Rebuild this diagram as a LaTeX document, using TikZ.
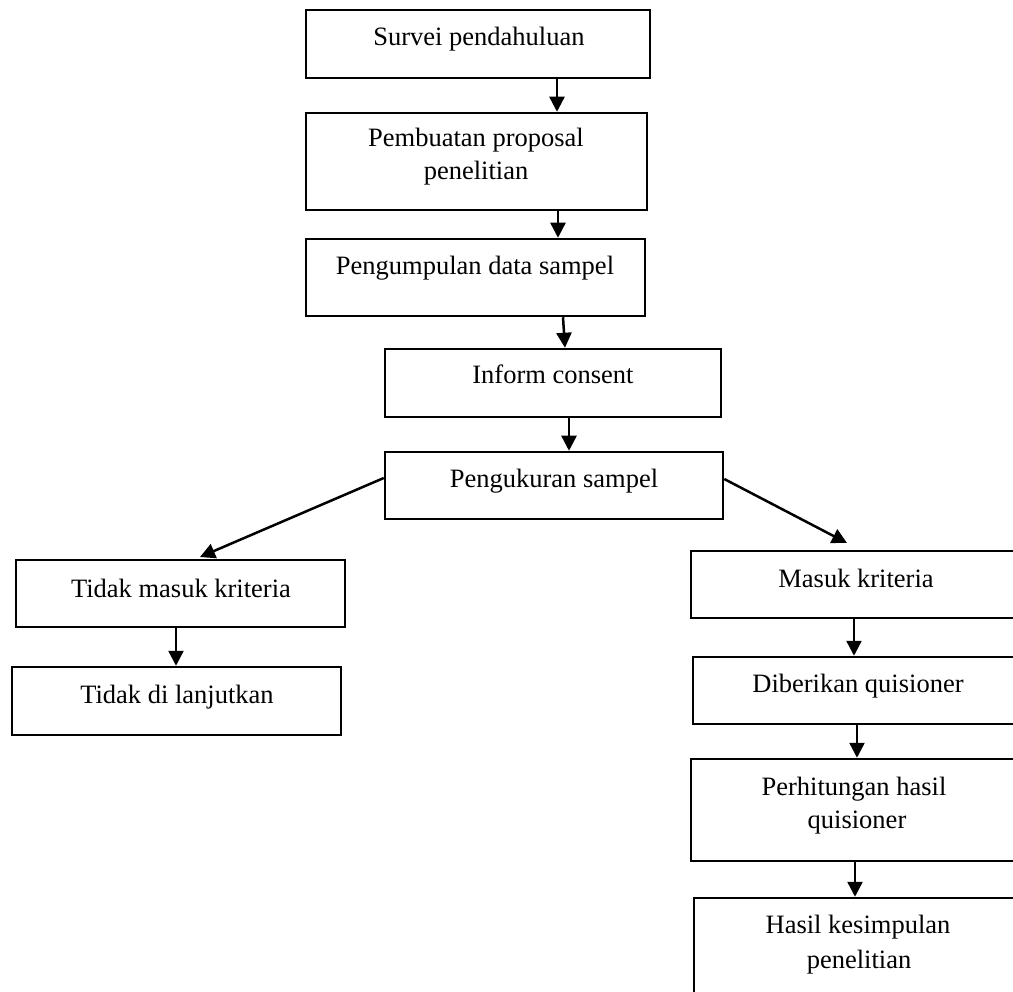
\documentclass[tikz,border=0pt]{standalone}
\usepackage{fontspec}
\setmainfont{Liberation Serif}
\usetikzlibrary{arrows.meta}
\begin{document}
\begin{tikzpicture}[x=1pt,y=-1pt,
 box/.style={draw, line width=2.5pt, inner sep=0pt, rectangle},
 txt/.style={anchor=base, inner sep=0pt, font=\fontsize{26.5}{32}\selectfont},
 arr/.style={line width=2.5pt, -{Triangle[length=15pt,width=15pt]}}]
\useasboundingbox (0,0) rectangle (1013,992);
\clip (0,0) rectangle (1013,992);
% boxes
\node[box, minimum width=344pt, minimum height=68pt] (n1) at (478,44) {};
\node[box, minimum width=341pt, minimum height=97pt] (n2) at (476.5,161.5) {};
\node[box, minimum width=339pt, minimum height=77pt] (n3) at (475.5,277.5) {};
\node[box, minimum width=336pt, minimum height=68pt] (n4) at (553,383) {};
\node[box, minimum width=338pt, minimum height=67pt] (n5) at (554,485.5) {};
\node[box, minimum width=329pt, minimum height=67pt] (n6) at (180.5,593.5) {};
\node[box, minimum width=329pt, minimum height=68pt] (n7) at (176.5,701) {};
\node[box, minimum width=331pt, minimum height=67pt] (n8) at (856.5,584.5) {};
\node[box, minimum width=329pt, minimum height=67pt] (n9) at (857.5,690.5) {};
\node[box, minimum width=331pt, minimum height=102pt] (n10) at (856.5,810) {};
\node[box, minimum width=328pt, minimum height=104pt] (n11) at (858,950) {};
% texts
\node[txt] (t1) at (479,46) {Survei pendahuluan};
\node[txt] (t2a) at (476,147) {Pembuatan proposal};
\node[txt] (t2b) at (476,180) {penelitian};
\node[txt] (t3) at (475,275) {Pengumpulan data sampel};
\node[txt] (t4) at (553,384) {Inform consent};
\node[txt] (t5) at (554,487) {Pengukuran sampel};
\node[txt] (t6) at (181,597) {Tidak masuk kriteria};
\node[txt] (t7) at (177,703) {Tidak di lanjutkan};
\node[txt] (t8) at (856,587) {Masuk kriteria};
\node[txt] (t9) at (858,692) {Diberikan quisioner};
\node[txt] (t10a) at (854,795) {Perhitungan hasil};
\node[txt] (t10b) at (857,828) {quisioner};
\node[txt] (t11a) at (858,933) {Hasil kesimpulan};
\node[txt] (t11b) at (859,968) {penelitian};
% free ends of diagonal connectors
\coordinate (e6) at (200,557);
\coordinate (e8) at (847,543);
% connectors
\draw[arr] (557,0 |- n1.south) -- (557,0 |- n2.north);
\draw[arr] (558,0 |- n2.south) -- (558,0 |- n3.north);
\draw[arr] (563,0 |- n3.south) -- (565,0 |- n4.north);
\draw[arr] (569,0 |- n4.south) -- (569,0 |- n5.north);
\draw[arr] (n5.west |- 0,478) -- (e6);
\draw[arr] (n5.east |- 0,479) -- (e8);
\draw[arr] (176,0 |- n6.south) -- (176,0 |- n7.north);
\draw[arr] (854,0 |- n8.south) -- (854,0 |- n9.north);
\draw[arr] (857,0 |- n9.south) -- (857,0 |- n10.north);
\draw[arr] (855,0 |- n10.south) -- (855,0 |- n11.north);
\end{tikzpicture}
\end{document}
